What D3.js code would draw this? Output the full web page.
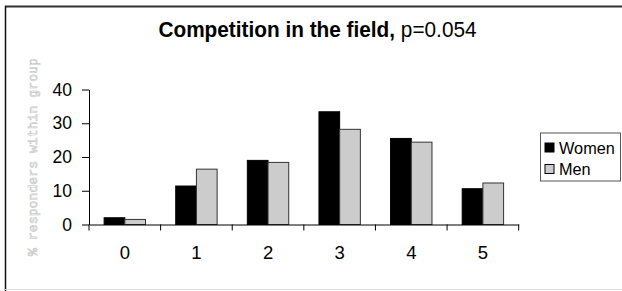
<!DOCTYPE html>
<html>
<head>
<meta charset="utf-8">
<script src="https://cdn.jsdelivr.net/npm/d3@7"></script>
<style>
  body { margin: 0; background: #fff; }
  svg { display: block; font-family: "Liberation Sans", Arial, sans-serif; }
</style>
</head>
<body>
<svg id="chart" width="622" height="291"></svg>
<script>
// data
var categories = ["0", "1", "2", "3", "4", "5"];
var seriesNames = ["Women", "Men"];
var women = [2.0, 11.4, 19.0, 33.4, 25.5, 10.6];
var men = [1.5, 16.4, 18.4, 28.2, 24.4, 12.3];
var yTicks = [0, 10, 20, 30, 40];
var colors = { Women: "#000000", Men: "#cccccc" };

var svg = d3.select("#chart");

// frame round the whole thing
svg.append("line").attr("x1", 5).attr("x2", 622).attr("y1", 6.5).attr("y2", 6.5)
  .attr("stroke", "#333").attr("stroke-width", 2);
svg.append("line").attr("x1", 5.5).attr("x2", 5.5).attr("y1", 6).attr("y2", 291)
  .attr("stroke", "#111").attr("stroke-width", 1.5);
svg.append("line").attr("x1", 5).attr("x2", 622).attr("y1", 289.5).attr("y2", 289.5)
  .attr("stroke", "#ddd").attr("stroke-width", 1);

// scales
var x = d3.scaleBand().domain(categories).range([89, 518.7]).padding(0);
var x1 = d3.scaleBand().domain(seriesNames).range([0, x.bandwidth()]).paddingOuter(0.73);
var y = d3.scaleLinear().domain([0, 40]).range([224.5, 89.5]);

// title (a bit taller than plain Arial in the original)
var title = svg.append("text")
  .attr("transform", "translate(317.5,36.5) scale(1,1.08)")
  .attr("text-anchor", "middle")
  .attr("font-size", 20.8)
  .attr("fill", "#000");
title.append("tspan").attr("font-weight", "bold").text("Competition in the field,");
title.append("tspan").text(" p=0.054");

// y axis title - pale, hollow looking monospace
svg.append("text")
  .attr("transform", "translate(37,157) rotate(-90)")
  .attr("text-anchor", "middle")
  .attr("font-family", "'Liberation Mono', 'DejaVu Sans Mono', monospace")
  .attr("font-size", 13.2)
  .attr("fill", "#fff")
  .attr("stroke", "#c4c4c4")
  .attr("stroke-width", 0.6)
  .text("% responders within group");

// bars
var rows = categories.map(function(c, i) {
  return { cat: c, vals: [{ key: "Women", v: women[i] }, { key: "Men", v: men[i] }] };
});

var groups = svg.append("g").selectAll("g")
  .data(rows)
  .join("g")
  .attr("transform", function(d) { return "translate(" + x(d.cat) + ",0)"; });

groups.selectAll("rect")
  .data(function(d) { return d.vals; })
  .join("rect")
  .attr("x", function(d) { return x1(d.key); })
  .attr("y", function(d) { return y(d.v); })
  .attr("width", x1.bandwidth())
  .attr("height", function(d) { return y(0) - y(d.v); })
  .attr("fill", function(d) { return colors[d.key]; })
  .attr("stroke", function(d) { return d.key == "Men" ? "#333" : "#000"; })
  .attr("stroke-width", 1);

// y axis
var yAxis = svg.append("g")
  .attr("transform", "translate(89,0)")
  .call(d3.axisLeft(y).tickValues(yTicks).tickSize(7).tickPadding(10).tickSizeOuter(0));
yAxis.selectAll("text").attr("font-size", 17.5).attr("fill", "#000");
yAxis.selectAll("line, path").attr("stroke", "#000");

// x axis: labels centred, ticks on the band edges
var xAxis = svg.append("g")
  .attr("transform", "translate(0," + y(0) + ")")
  .call(d3.axisBottom(x).tickSize(0).tickPadding(21.5).tickSizeOuter(0));
xAxis.selectAll("text").attr("font-size", 18.5).attr("fill", "#000");
xAxis.select(".domain").attr("stroke", "#000");

var edges = categories.map(function(c) { return x(c); }).concat([x.range()[1]]);
xAxis.selectAll(".edge")
  .data(edges)
  .join("line")
  .attr("class", "edge")
  .attr("x1", function(d) { return d; }).attr("x2", function(d) { return d; })
  .attr("y1", 0).attr("y2", 6)
  .attr("stroke", "#000");

// legend
var legend = svg.append("g").attr("transform", "translate(540,132.5)");
legend.append("rect")
  .attr("x", 0.5).attr("y", 0.5).attr("width", 80).attr("height", 48)
  .attr("fill", "#fff").attr("stroke", "#555").attr("stroke-width", 1);

var items = legend.selectAll(".item")
  .data(seriesNames)
  .join("g")
  .attr("class", "item")
  .attr("transform", function(d, i) { return "translate(5," + (10.5 + i * 21.5) + ")"; });
items.append("rect")
  .attr("width", 9).attr("height", 9)
  .attr("fill", function(d) { return colors[d]; })
  .attr("stroke", "#000").attr("stroke-width", 1);
items.append("text")
  .attr("x", 14).attr("y", 10.5)
  .attr("font-size", 16.3)
  .text(function(d) { return d; });
</script>
</body>
</html>
